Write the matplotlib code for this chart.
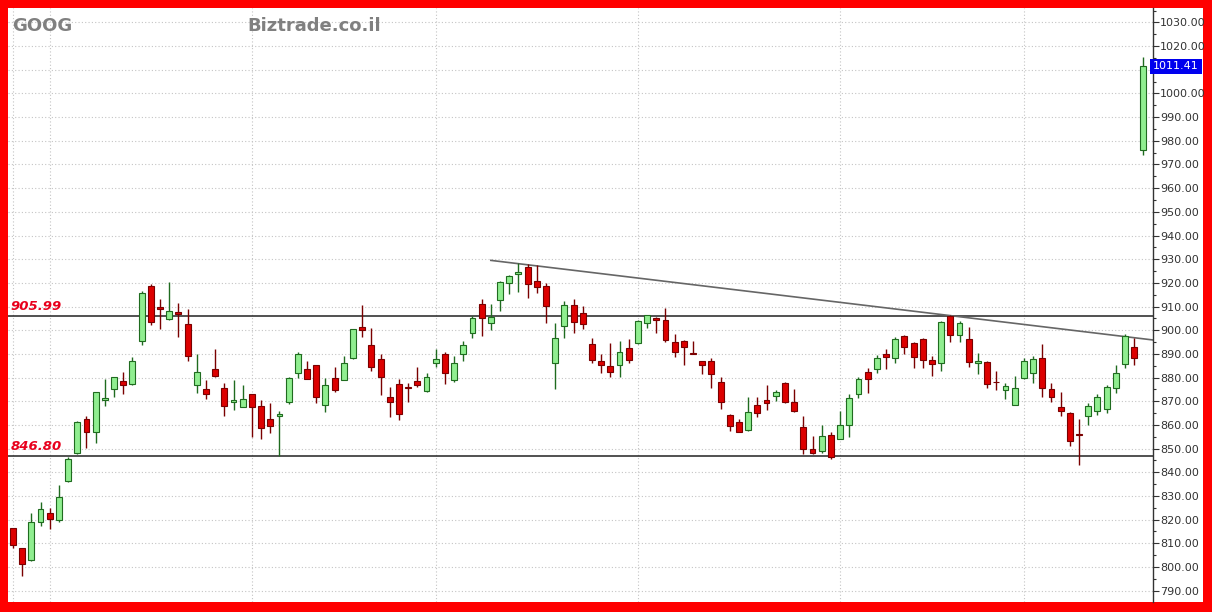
import matplotlib

matplotlib.use("Agg")
import matplotlib.pyplot as plt
import matplotlib.transforms as mtransforms
import numpy as np
from matplotlib.patches import Rectangle
from matplotlib.ticker import FuncFormatter, MultipleLocator

# daily OHLC (oldest -> newest)
opens = [
    816.3, 807.8, 802.9, 818.8, 822.9, 819.8, 836.3, 848.0, 862.6, 856.9,
    870.5, 875.1, 878.7, 877.1, 895.3, 918.7, 909.7, 904.6, 907.8, 902.5,
    876.7, 875.3, 883.5, 875.6, 869.8, 867.7, 872.9, 868.0, 862.3, 863.9,
    869.8, 881.8, 883.7, 885.3, 868.5, 879.9, 878.9, 888.2, 901.2, 893.7,
    888.0, 871.6, 877.3, 876.0, 878.7, 874.4, 886.0, 890.1, 878.9, 889.8,
    898.9, 911.1, 903.0, 912.7, 919.8, 923.9, 926.8, 920.7, 918.7, 886.3,
    901.9, 910.5, 907.1, 894.0, 887.0, 884.9, 885.2, 892.6, 894.5, 903.2,
    905.0, 904.3, 894.9, 895.4, 890.5, 887.0, 887.0, 878.2, 864.3, 861.2,
    857.7, 868.3, 870.5, 872.3, 877.6, 869.7, 859.2, 849.9, 849.0, 855.7,
    854.2, 859.9, 873.0, 882.3, 883.7, 889.9, 888.4, 897.5, 894.5, 896.1,
    887.4, 886.0, 906.2, 898.0, 896.3, 886.3, 886.6, 878.3, 874.7, 868.4,
    879.9, 882.0, 888.1, 875.0, 867.7, 865.1, 856.1, 863.9, 865.9, 866.6,
    875.4, 885.6, 892.7, 976.1,
]
highs = [
    816.6, 808.0, 822.6, 827.5, 824.7, 834.6, 846.5, 861.6, 863.6, 874.0,
    879.5, 880.4, 882.2, 888.5, 916.4, 919.5, 913.3, 920.4, 911.4, 908.8,
    889.8, 878.9, 891.9, 877.8, 878.8, 876.7, 873.1, 870.4, 869.4, 866.0,
    880.3, 890.8, 887.0, 885.5, 879.7, 884.6, 889.2, 900.7, 910.6, 900.8,
    889.8, 875.9, 879.4, 877.6, 884.6, 881.8, 892.0, 890.7, 889.1, 895.6,
    906.0, 913.0, 910.9, 920.9, 923.2, 928.3, 927.8, 927.4, 919.8, 902.9,
    912.5, 913.0, 910.2, 896.6, 889.9, 894.5, 895.4, 896.3, 904.3, 906.5,
    905.7, 909.5, 898.3, 895.9, 895.6, 887.1, 888.4, 880.1, 864.6, 862.3,
    871.6, 871.9, 876.7, 874.7, 878.0, 875.0, 863.7, 855.3, 859.9, 856.9,
    866.0, 873.0, 880.1, 883.9, 889.5, 891.9, 897.0, 898.0, 895.1, 896.6,
    889.1, 904.0, 906.4, 904.0, 901.5, 890.2, 886.8, 882.9, 877.8, 880.6,
    888.1, 889.1, 894.2, 877.6, 873.8, 865.3, 862.5, 869.1, 872.9, 876.8,
    885.3, 898.3, 896.9, 1015.3,
]
lows = [
    807.8, 796.3, 802.6, 817.4, 816.0, 818.8, 835.7, 847.8, 850.1, 852.5,
    868.1, 871.9, 873.2, 877.0, 893.7, 902.1, 900.4, 904.4, 897.2, 886.9,
    873.6, 870.8, 880.1, 863.9, 866.3, 867.5, 854.9, 853.9, 856.7, 847.0,
    868.8, 879.7, 879.3, 869.1, 865.4, 873.9, 878.8, 888.0, 897.2, 882.9,
    872.6, 863.2, 862.0, 869.5, 876.1, 874.0, 884.6, 877.1, 878.2, 887.1,
    896.8, 897.7, 900.1, 908.1, 915.3, 916.1, 913.5, 915.8, 902.9, 875.3,
    896.8, 899.0, 900.4, 886.0, 881.8, 880.3, 880.3, 886.0, 894.3, 900.8,
    898.7, 895.1, 888.5, 885.2, 890.0, 881.4, 875.7, 866.8, 857.5, 856.8,
    857.5, 863.4, 866.3, 870.1, 869.4, 865.6, 847.6, 847.6, 848.0, 845.4,
    854.0, 855.0, 871.2, 873.3, 882.0, 883.5, 886.0, 889.8, 884.1, 884.1,
    880.8, 882.8, 895.0, 895.1, 884.6, 881.5, 875.4, 874.7, 870.9, 868.3,
    879.2, 877.6, 871.9, 869.8, 863.9, 851.2, 843.0, 859.9, 864.2, 864.9,
    873.6, 883.9, 885.3, 973.9,
]
closes = [
    809.1, 801.2, 818.8, 824.3, 820.3, 829.4, 845.6, 861.1, 856.9, 873.8,
    871.3, 880.2, 877.0, 886.9, 915.6, 903.5, 908.8, 908.1, 906.7, 889.1,
    882.5, 873.2, 880.8, 868.1, 870.5, 870.8, 867.4, 858.8, 859.6, 864.5,
    879.7, 889.9, 879.4, 871.6, 876.7, 874.6, 886.0, 900.5, 900.2, 884.4,
    880.3, 869.5, 864.5, 875.6, 876.8, 880.3, 887.8, 882.0, 886.0, 893.6,
    905.1, 905.0, 905.7, 920.4, 923.0, 924.5, 919.4, 918.2, 910.3, 896.6,
    910.5, 903.4, 902.6, 887.4, 885.2, 882.2, 890.7, 887.4, 903.9, 906.3,
    904.4, 895.9, 890.7, 892.8, 890.1, 885.2, 881.4, 869.8, 859.5, 856.9,
    865.4, 865.1, 869.1, 873.9, 869.5, 866.0, 849.9, 848.2, 855.3, 846.5,
    859.9, 871.2, 879.5, 879.4, 888.1, 888.8, 896.1, 893.0, 888.8, 887.4,
    885.8, 903.3, 898.0, 902.9, 886.4, 886.9, 877.1, 878.0, 876.4, 875.7,
    887.0, 887.8, 875.7, 871.9, 865.9, 853.2, 855.6, 868.1, 871.6, 875.9,
    881.8, 897.7, 888.2, 1011.41,
]

levels = [905.99, 846.80]
trend_x = [52, 124]
trend_y = [929.5, 895.9]
grid_days = [0, 4, 26, 46, 68, 90, 110]

_UP_FILL = "#90ee90"
_UP_EDGE = "#1f6b1f"
_DN_FILL = "#dd0000"
_DN_EDGE = "#7a0000"
_GRID = "#c4c4c4"

W, H = 1212, 612
fig = plt.figure(figsize=(W / 100, H / 100), dpi=100, facecolor="#ff0000")
fig.add_artist(
    Rectangle(
        (8 / W, 10 / H), 1195 / W, 594 / H,
        transform=fig.transFigure, facecolor="white", edgecolor="none", zorder=-1,
    )
)
ax = fig.add_axes([8 / W, 10 / H, 1145 / W, 594 / H])
ax.set_facecolor("white")

x = np.arange(len(opens))
o = np.array(opens)
h = np.array(highs)
l = np.array(lows)
c = np.array(closes)
up = c >= o

ax.vlines(x[up], l[up], h[up], color=_UP_EDGE, lw=1, zorder=3)
ax.vlines(x[~up], l[~up], h[~up], color=_DN_EDGE, lw=1, zorder=3)
ax.bar(x[up], np.maximum(c - o, 0.3)[up], bottom=o[up], width=0.64,
       color=_UP_FILL, edgecolor=_UP_EDGE, lw=0.8, zorder=4)
ax.bar(x[~up], np.maximum(o - c, 0.3)[~up], bottom=c[~up], width=0.64,
       color=_DN_FILL, edgecolor=_DN_EDGE, lw=0.8, zorder=4)

blend = mtransforms.blended_transform_factory(ax.transAxes, ax.transData)
for lv in levels:
    ax.axhline(lv, color="#222222", lw=1.1, zorder=2)
    ax.annotate(f"{lv:.2f}", (0.002, lv), xycoords=blend, xytext=(0, 2),
                textcoords="offset points", va="bottom", ha="left",
                color="#e8001c", fontsize=9.5, fontstyle="italic",
                fontweight="bold")

ax.plot(trend_x, trend_y, color="#666666", lw=1.2, zorder=2)

ax.set_xlim(-0.54, 124.05)
ax.set_ylim(785.2, 1036.1)

last = closes[-1]


def _fmt(v, _pos):
    # the last-price tag covers the tick label next to it
    if abs(v - last) < 5:
        return ""
    return f"{v:.2f}"


ax.yaxis.tick_right()
ax.yaxis.set_major_locator(MultipleLocator(10))
ax.yaxis.set_minor_locator(MultipleLocator(5))
ax.yaxis.set_major_formatter(FuncFormatter(_fmt))
ax.tick_params(axis="y", which="major", direction="out", length=4, width=0.8,
               color="#333333", labelsize=8, labelcolor="#333333", pad=1)
ax.tick_params(axis="y", which="minor", direction="out", length=2, width=0.8,
               color="#333333")
ax.set_xticks(grid_days)
ax.tick_params(axis="x", length=0, labelbottom=False)
ax.grid(axis="both", which="major", linestyle=(0, (1, 2)), color=_GRID,
        lw=0.8, zorder=0)
ax.set_axisbelow(True)

for side in ("top", "left", "bottom"):
    ax.spines[side].set_visible(False)
ax.spines["right"].set_color("#333333")
ax.spines["right"].set_linewidth(1)

ax.text(1.0, last, f"{last:.2f}", transform=blend, ha="left",
        va="center", color="white", fontsize=8, clip_on=False, zorder=6,
        bbox=dict(boxstyle="square,pad=0.25", fc="#0000ee", ec="none"))

fig.text(12 / W, 1 - 26 / H, "GOOG", color="#808080", fontsize=13,
         fontweight="bold", va="center", ha="left")
fig.text(247 / W, 1 - 26 / H, "Biztrade.co.il", color="#808080", fontsize=13,
         fontweight="bold", va="center", ha="left")

fig.savefig("out.png", dpi=100)
